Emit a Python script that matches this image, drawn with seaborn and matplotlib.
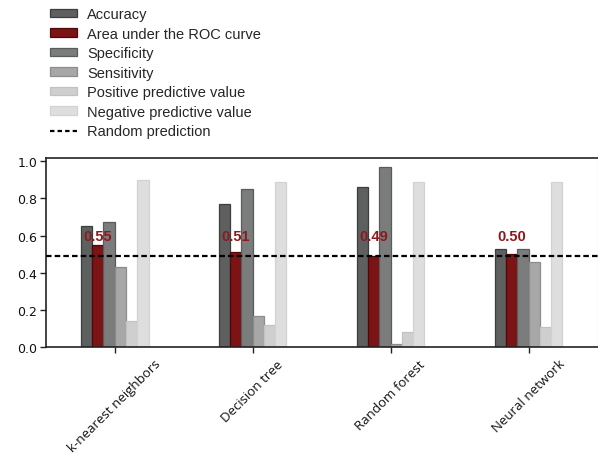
import matplotlib
matplotlib.use("Agg")
import matplotlib.pyplot as plt
import seaborn as sns
import pandas as pd
from matplotlib.patches import Patch
from matplotlib.lines import Line2D

# ---- data ----
models = ["k-nearest neighbors", "Decision tree", "Random forest", "Neural network"]
metrics = ["Accuracy", "Area under the ROC curve", "Specificity", "Sensitivity",
           "Positive predictive value", "Negative predictive value"]
accuracy = [0.65, 0.77, 0.86, 0.53]
auc = [0.55, 0.51, 0.49, 0.50]
specificity = [0.675, 0.85, 0.97, 0.53]
sensitivity = [0.43, 0.17, 0.02, 0.46]
ppv = [0.14, 0.12, 0.08, 0.11]
npv = [0.90, 0.89, 0.89, 0.89]
auc_labels = ["0.55", "0.51", "0.49", "0.50"]
random_prediction = 0.49
yticks = [0.0, 0.2, 0.4, 0.6, 0.8, 1.0]

series = [accuracy, auc, specificity, sensitivity, ppv, npv]
rows = []
for metric, vals in zip(metrics, series):
    for m, v in zip(models, vals):
        rows.append({"model": m, "metric": metric, "value": v})
df = pd.DataFrame(rows)

fills = ["#5e6060", "#7c1315", "#7b7c7c", "#a7a7a7", "#cfcfcf", "#dedede"]
edges = ["#3c3e3e", "#4e0a0b", "#5a5b5b", "#8c8c8c", "#c2c2c2", "#d2d2d2"]

sns.set_style("white")
fig = plt.figure(figsize=(5.98, 4.60), dpi=100)
ax = fig.add_axes([45.8 / 598, 1 - 348.3 / 460, (597.5 - 45.8) / 598, (348.3 - 159.3) / 460])

sns.barplot(data=df, x="model", y="value", hue="metric", hue_order=metrics,
            order=models, palette=fills, width=0.49, gap=0, ax=ax,
            legend=False, errorbar=None, saturation=1)

for cont, ec in zip(ax.containers, edges):
    for bar in cont:
        bar.set_edgecolor(ec)
        bar.set_linewidth(0.9)

ax.axhline(random_prediction, color="black", lw=1.6, linestyle=(0, (2.5, 1.4)), zorder=5)

# AUC labels
for bar, lab in zip(ax.containers[1], auc_labels):
    cx = bar.get_x() + bar.get_width() / 2
    ax.text(cx, 0.6, lab, ha="center", va="center", color="#8a1a1e",
            fontsize=10.5, fontweight="bold", family=["Liberation Sans", "DejaVu Sans"], zorder=6)

ax.set_xlim(-0.5, 3.5)
ax.set_ylim(0, 1.016)
ax.set_yticks(yticks)
ax.set_yticklabels([f"{t:.1f}" for t in yticks], fontsize=9, family="DejaVu Sans", color="#111111")
ax.set_xticks(range(len(models)))
ax.set_xticklabels(models, rotation=45, ha="center", fontsize=9.5, family="Open Sans", color="#111111")
ax.set_xlabel("")
ax.set_ylabel("")
ax.tick_params(axis="both", which="both", direction="out", length=4, width=1, color="#222222",
               bottom=True, left=True, pad=2)
ax.tick_params(axis="x", pad=3)
for name, sp in ax.spines.items():
    sp.set_visible(True)
    sp.set_color("#222222")
    sp.set_linewidth(1.2)
ax.spines["right"].set_color("#bbbbbb")
ax.spines["right"].set_linewidth(0.8)

handles = [Patch(facecolor=f, edgecolor=e, linewidth=0.9) for f, e in zip(fills, edges)]
handles.append(Line2D([0], [0], color="black", lw=1.6, linestyle=(0, (2.0, 1.4))))
labels = metrics + ["Random prediction"]
fig.legend(handles, labels, loc="upper left", bbox_to_anchor=(50 / 598, 1 - 8 / 460),
           frameon=False, borderpad=0, borderaxespad=0, labelspacing=0.38,
           handlelength=1.85, handleheight=0.5, handletextpad=0.7,
           prop={"family": "Liberation Sans", "size": 10.5})

fig.savefig("out.png", dpi=100)
